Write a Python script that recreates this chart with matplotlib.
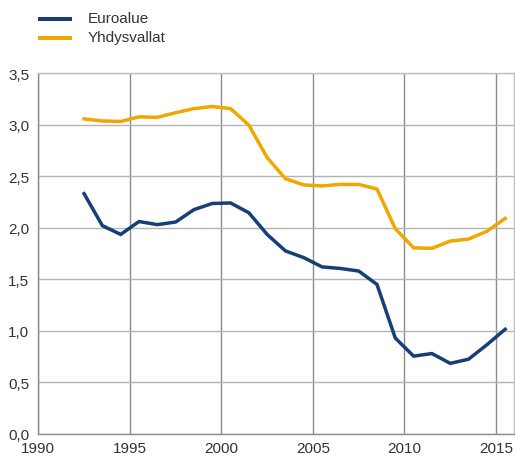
import matplotlib
matplotlib.use("Agg")
import matplotlib.pyplot as plt
from matplotlib.ticker import FuncFormatter, MultipleLocator
from matplotlib.lines import Line2D
import matplotlib.transforms as mtransforms

plt.rcParams['font.family'] = ['Liberation Sans', 'DejaVu Sans']

years = [1992.5, 1993.5, 1994.5, 1995.5, 1996.5, 1997.5, 1998.5, 1999.5,
         2000.5, 2001.5, 2002.5, 2003.5, 2004.5, 2005.5, 2006.5, 2007.5,
         2008.5, 2009.5, 2010.5, 2011.5, 2012.5, 2013.5, 2014.5, 2015.5]
euroalue = [2.33, 2.02, 1.935, 2.06, 2.03, 2.055, 2.175, 2.235,
            2.24, 2.145, 1.935, 1.775, 1.71, 1.62, 1.605, 1.58,
            1.45, 0.93, 0.755, 0.78, 0.685, 0.725, 0.865, 1.015]
yhdysvallat = [3.055, 3.035, 3.03, 3.075, 3.07, 3.115, 3.155, 3.175,
               3.155, 2.995, 2.68, 2.475, 2.415, 2.405, 2.42, 2.42,
               2.375, 1.99, 1.805, 1.80, 1.87, 1.89, 1.965, 2.09]
labels = ["Euroalue", "Yhdysvallat"]
colors = ["#173e77", "#f0a700"]

W, H = 515, 459
fig = plt.figure(figsize=(W/100, H/100), dpi=100)
ax = fig.add_axes([38.3/W, 1 - 434/H, (514.3 - 38.3)/W, (434 - 73)/H])

ax.plot(years, euroalue, color=colors[0], lw=2.5, solid_joinstyle='miter', zorder=3)
ax.plot(years, yhdysvallat, color=colors[1], lw=2.5, solid_joinstyle='miter', zorder=3)

ax.set_xlim(1990, 2016)
ax.set_ylim(0, 3.5)
ax.xaxis.set_major_locator(MultipleLocator(5))
ax.yaxis.set_major_locator(MultipleLocator(0.5))
ax.yaxis.set_major_formatter(FuncFormatter(lambda v, p: f"{v:.1f}".replace('.', ',')))
ax.xaxis.set_major_formatter(FuncFormatter(lambda v, p: f"{int(v)}"))

ax.grid(axis='x', color='#8c8c8c', lw=1.0)
ax.grid(axis='y', color='#b4b4b4', lw=1.0)
ax.set_axisbelow(True)
for s in ['top', 'right']:
    ax.spines[s].set_color('#c0c0c0')
    ax.spines[s].set_linewidth(1.0)
for s in ['left', 'bottom']:
    ax.spines[s].set_color('#8c8c8c')
    ax.spines[s].set_linewidth(1.0)
ax.tick_params(length=0, labelsize=11, colors='#333333')
ax.tick_params(axis='y', pad=6.5)
ax.tick_params(axis='x', pad=5.5)
shift = mtransforms.ScaledTranslation(0, -1/100, fig.dpi_scale_trans)
for lab in ax.get_yticklabels():
    lab.set_transform(lab.get_transform() + shift)

# legend drawn in figure coordinates
for i, (lab, c) in enumerate(zip(labels, colors)):
    yy = 1 - (19 + 19 * i) / H
    fig.add_artist(Line2D([38/W, 72/W], [yy, yy], transform=fig.transFigure,
                          color=c, lw=2.9, solid_capstyle='butt'))
    fig.text(88/W, yy, lab, fontsize=11, color='#333333', va='center', ha='left')

fig.savefig("out.png", dpi=100)
